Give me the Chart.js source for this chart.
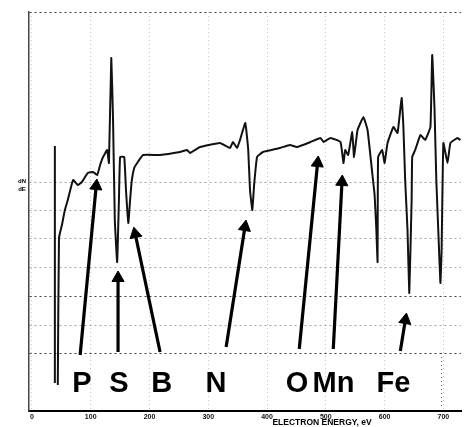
<!DOCTYPE html>
<html><head><meta charset="utf-8">
<script src="https://cdn.jsdelivr.net/npm/chart.js@4.4.1/dist/chart.umd.min.js"></script>
<style>html,body{margin:0;padding:0;background:#fff;}canvas{display:block}</style>
</head><body>
<canvas id="c" width="469" height="427"></canvas>
<script>
// Auger spectrum, dN/dE (arbitrary units) vs electron energy (eV)
const energy = [44,46,51,56,61,70,78,85,95,104,111,116,121,128,131,135,138,141,145,148,150,157,160,164,167,170,174,179,189,218,252,264,269,286,320,337,342,349,354,363,368,371,375,378,383,393,422,439,451,474,491,496,508,525,530,533,538,545,548,554,564,571,579,583,586,588,589,596,600,605,615,622,629,632,635,639,642,646,647,652,661,669,678,681,685,688,692,695,697,700,707,712,724,729];
const dNdE   = [24,171,184,199,209,229,224,227,236,237,234,244,252,259,246,351,289,189,147,209,252,252,219,186,209,229,241,246,254,254,257,259,256,262,266,261,267,261,269,286,259,219,199,224,252,257,261,264,262,267,271,267,271,267,246,259,254,277,252,279,292,279,236,214,179,147,252,259,246,266,282,276,311,282,229,179,116,209,252,259,274,269,282,354,299,229,169,126,159,266,246,266,271,269];
const startMarkEnergy = [39,39];
const startMarkLevel = [263,26];
const xTicks = [0,100,200,300,400,500,600,700];
const gridLevels = [397,227,199,171,142,113,84,56];
const strongLevels = [397,113,56];
const elementNames = ['P','S','B','N','O','Mn','Fe'];
const elementEnergy = [85,148,221,313,451,513,615];
const elementLevel = 26;
const arrowTailE = [82,146.5,218,330.4,454.8,512.7,626.8];
const arrowTailL = [54,57,57,62,60,60,58];
const arrowHeadE = [109.3,146.5,175.8,362.4,486,527.5,635.3];
const arrowHeadL = [223,131,175,182,246,227,89];

const spectrum = energy.map((e,i)=>({x:e,y:dNdE[i]}));
const datasets = [{
  data: spectrum, showLine:true, borderColor:'#111', borderWidth:2, pointRadius:0, tension:0.1, order:1
},{
  data: startMarkEnergy.map((e,i)=>({x:e,y:startMarkLevel[i]})), showLine:true, borderColor:'#111', borderWidth:2, pointRadius:0
}];
function arrowRot(ctx){
  const ch = ctx.chart, d = ch.data.datasets[ctx.datasetIndex].data;
  const xs = ch.scales.x, ys = ch.scales.y;
  if(!xs || !ys) return 0;
  const dx = xs.getPixelForValue(d[1].x)-xs.getPixelForValue(d[0].x);
  const dy = ys.getPixelForValue(d[1].y)-ys.getPixelForValue(d[0].y);
  return Math.atan2(dx,-dy)*180/Math.PI;
}
for(let i=0;i<arrowTailE.length;i++){
  datasets.push({
    data:[{x:arrowTailE[i],y:arrowTailL[i]},{x:arrowHeadE[i],y:arrowHeadL[i]}],
    showLine:true, borderColor:'#000', borderWidth:3.2,
    pointRadius:[0,7], pointHoverRadius:[0,7], pointStyle:'triangle',
    pointBackgroundColor:'#000', pointBorderColor:'#000', pointBorderWidth:1,
    pointRotation: arrowRot
  });
}

const decor = {
  id:'decor',
  afterDraw(chart){
    const {ctx, scales:{x,y}} = chart;
    ctx.save();
    // label box right edge
    ctx.strokeStyle='#555'; ctx.lineWidth=1; ctx.setLineDash([1,3]);
    ctx.beginPath(); ctx.moveTo(x.getPixelForValue(697), y.getPixelForValue(56)); ctx.lineTo(x.getPixelForValue(697), y.getPixelForValue(0)); ctx.stroke();
    ctx.setLineDash([]);
    ctx.fillStyle='#000';
    ctx.font='bold 29px "Liberation Sans", Arial, sans-serif';
    ctx.textAlign='center'; ctx.textBaseline='middle';
    elementNames.forEach((n,i)=>ctx.fillText(n, x.getPixelForValue(elementEnergy[i]), y.getPixelForValue(elementLevel)+1));
    ctx.font='bold 8.5px "Liberation Sans Narrow", "Liberation Sans", Arial, sans-serif';
    ctx.fillText('ELECTRON ENERGY, eV', 322, 423);
    ctx.font='bold 6px "Liberation Sans", Arial, sans-serif';
    ctx.fillText('dN', 22, 181);
    ctx.fillText('dE', 22, 189);
    ctx.restore();
  }
};

new Chart(document.getElementById('c'), {
  type:'scatter',
  data:{datasets},
  options:{
    responsive:false, animation:false, devicePixelRatio:1,
    layout:{padding:{left:29,top:12,right:8,bottom:0}},
    plugins:{legend:{display:false}, tooltip:{enabled:false}},
    events:[],
    scales:{
      x:{
        type:'linear', min:-5, max:730,
        afterBuildTicks(s){ s.ticks = xTicks.map(v=>({value:v})); },
        afterFit(s){ s.height = 16; },
        ticks:{ color:'#111', padding:2, font:{size:7, weight:'bold', family:'"Liberation Sans Narrow", "Liberation Sans", Arial'}, maxRotation:0, autoSkip:false },
        grid:{ color:'rgba(0,0,0,0.22)', drawTicks:false, lineWidth:1 },
        border:{ display:true, color:'#000', width:2, dash:[1,3] }
      },
      y:{
        type:'linear', min:-2, max:397,
        afterBuildTicks(s){ s.ticks = gridLevels.map(v=>({value:v})); },
        afterFit(s){ s.width = 0; },
        ticks:{ display:false },
        grid:{ drawTicks:false, lineWidth:1,
          color:(c)=> strongLevels.includes(c.tick && c.tick.value) ? 'rgba(0,0,0,0.75)' : 'rgba(0,0,0,0.35)' },
        border:{ display:true, color:'#444', width:1.5, dash:[2,3] }
      }
    }
  },
  plugins:[decor]
});
</script>
</body></html>
